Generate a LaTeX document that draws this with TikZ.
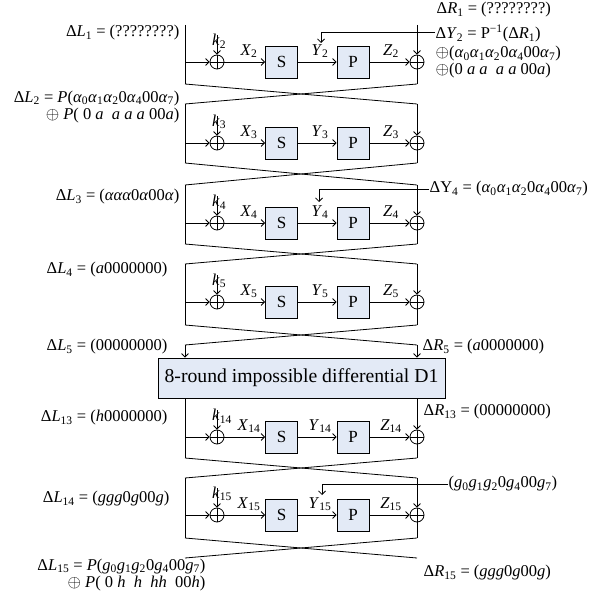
\documentclass[tikz,border=0pt]{standalone}
\usepackage{fontspec}
\setmainfont{Liberation Serif}
\usetikzlibrary{arrows.meta}
\definecolor{boxfill}{RGB}{227,234,246}
\newcommand\al[1]{\textit{α}\textsubscript{#1}}
\newcommand\gs[1]{\textit{g}\textsubscript{#1}}
\newcommand\sub[1]{\textsubscript{#1}}

% one Feistel round: #1 id, #2 y of the data line, #3 top, #4 bottom, #5 round index
\newcommand\fround[5]{%
  \coordinate (lt#1) at (185,#3);
  \coordinate (lb#1) at (185,#4);
  \coordinate (rt#1) at (417,#3);
  \coordinate (rb#1) at (417,#4);
  \coordinate (lm#1) at (185,#2);
  \coordinate (kt#1) at (217,#2-27);
  \node[xor] (kx#1) at (217,#2) {};
  \node[sbox] (s#1) at (281.5,#2) {S};
  \node[sbox] (p#1) at (353,#2) {P};
  \node[xor] (rx#1) at (417,#2) {};
  \node[lab, anchor=west] (k#1) at (211.5,#2-21) {\textit{k}\sub{#5}};
  \node[lab] (x#1) at (249,#2-11) {\textit{X}\sub{#5}};
  \node[lab] (y#1) at (320,#2-11) {\textit{Y}\sub{#5}};
  \node[lab] (z#1) at (391,#2-11) {\textit{Z}\sub{#5}};
  \draw[wire] (lt#1) -- (lb#1);
  \draw[arr] (lm#1) -- (kx#1);
  \draw[arr] (kt#1) -- (kx#1);
  \draw[arr] (kx#1) -- (s#1);
  \draw[arr] (s#1) -- (p#1);
  \draw[arr] (p#1) -- (rx#1);
  \draw[arr] (rt#1) -- (rx#1);
  \draw[wire] (rx#1) -- (rb#1);
}

\begin{document}
\begin{tikzpicture}[x=1pt, y=-1pt,
  wire/.style={line width=0.8pt},
  arr/.style={wire, -{Straight Barb[length=3.5pt,width=7pt]}},
  xor/.style={circle, draw, line width=0.8pt, minimum size=14pt, inner sep=0pt,
    path picture={\draw[line width=0.8pt]
      (path picture bounding box.north) -- (path picture bounding box.south)
      (path picture bounding box.west) -- (path picture bounding box.east);}},
  sbox/.style={draw, line width=0.8pt, fill=boxfill, minimum width=32pt,
    minimum height=32pt, inner sep=0pt, font=\fontsize{17}{19}\selectfont},
  lab/.style={inner sep=0.5pt, font=\fontsize{16.5}{17}\selectfont},
  bigbox/.style={draw, line width=0.8pt, fill=boxfill, minimum width=287pt,
    minimum height=40pt, inner sep=0pt, font=\fontsize{19.7}{22}\selectfont}]
\useasboundingbox (0,0) rectangle (599,596);

% rounds 2 to 5
\fround{a}{62}{25}{84}{2}
\fround{b}{143}{104}{163}{3}
\fround{c}{223}{185}{244}{4}
\fround{d}{302}{264}{325}{5}

% swaps between rounds
\draw[wire] (lba) -- (rtb); \draw[wire] (rba) -- (ltb);
\draw[wire] (lbb) -- (rtc); \draw[wire] (rbb) -- (ltc);
\draw[wire] (lbc) -- (rtd); \draw[wire] (rbc) -- (ltd);

% the 8-round impossible differential
\node[bigbox] (big) at (301.5,378) {8-round impossible differential D1};
\coordinate (le) at (185,345);
\coordinate (re) at (417,345);
\draw[wire] (lbd) -- (re); \draw[wire] (rbd) -- (le);
\draw[arr] (le) -- (le |- big.north);
\draw[arr] (re) -- (re |- big.north);

% rounds 14 and 15
\fround{e}{437}{398}{458}{14}
\fround{f}{515}{478}{538}{15}
\draw[wire] (lbe) -- (rtf); \draw[wire] (rbe) -- (ltf);
\coordinate (lend) at (185,558);
\coordinate (rend) at (417,558);
\draw[wire] (lbf) -- (rend); \draw[wire] (rbf) -- (lend);

% differences on the left
\node[lab, anchor=east] (dl1) at (180,33) {Δ\textit{L}\sub{1} = (????????)};
\node[lab, anchor=north east, align=right] (dl2) at (180,90)
  {Δ\textit{L}\sub{2} = \textit{P}(\al{0}\al{1}\al{2}0\al{4}00\al{7})\\
   $\oplus$ \textit{P}( 0 \textit{a}\ \ \textit{a} \textit{a} \textit{a} 00\textit{a})\hspace{8pt}};
\node[lab, anchor=east] (dl3) at (180,197) {Δ\textit{L}\sub{3} = (\textit{ααα}0\textit{α}00\textit{α})};
\node[lab, anchor=east] (dl4) at (168,270) {Δ\textit{L}\sub{4} = (\textit{a}0000000)};
\node[lab, anchor=east] (dl5) at (168,347) {Δ\textit{L}\sub{5} = (00000000)};
\node[lab, anchor=east] (dl13) at (168,418) {Δ\textit{L}\sub{13} = (\textit{h}0000000)};
\node[lab, anchor=east] (dl14) at (170,499) {Δ\textit{L}\sub{14} = (\textit{ggg}0\textit{g}00\textit{g})};
\node[lab, anchor=north east, align=right] (dl15) at (206,558)
  {Δ\textit{L}\sub{15} = \textit{P}(\gs{0}\gs{1}\gs{2}0\gs{4}00\gs{7})\\
   $\oplus$ \textit{P}( 0 \textit{h}\ \ \textit{h}\ \ \textit{hh}\ \ 00\textit{h})\hspace{10pt}};

% differences on the right
\node[lab, anchor=west] (dr1) at (436,10) {Δ\textit{R}\sub{1} = (????????)};
\node[lab, anchor=north west, align=left] (dy2) at (435,24)
  {Δ\textit{Y}\sub{2} = P\textsuperscript{−1}(Δ\textit{R}\sub{1})\\[2pt]
   $\oplus$(\al{0}\al{1}\al{2}0\al{4}00\al{7})\\
   $\oplus$(0 \textit{a} \textit{a}\ \ \textit{a} \textit{a} 00\textit{a})};
\node[lab, anchor=west] (dy4) at (429,189) {ΔY\sub{4} = (\al{0}\al{1}\al{2}0\al{4}00\al{7})};
\node[lab, anchor=west] (dr5) at (422,347) {Δ\textit{R}\sub{5} = (\textit{a}0000000)};
\node[lab, anchor=west] (dr13) at (423,412) {Δ\textit{R}\sub{13} = (00000000)};
\node[lab, anchor=west] (g15) at (448,484) {(\gs{0}\gs{1}\gs{2}0\gs{4}00\gs{7})};
\node[lab, anchor=west] (dr15) at (423,573) {Δ\textit{R}\sub{15} = (\textit{ggg}0\textit{g}00\textit{g})};

% known output differences of P fed back to Y
\coordinate (dy2w) at (435,32);
\coordinate (fa) at (321,43);
\coordinate (fc) at (319,202);
\coordinate (ff) at (322,495);
\draw[arr] (dy2w) -| (fa);
\draw[arr] (dy4.west) -| (fc);
\draw[arr] (g15.west) -| (ff);
\end{tikzpicture}
\end{document}
